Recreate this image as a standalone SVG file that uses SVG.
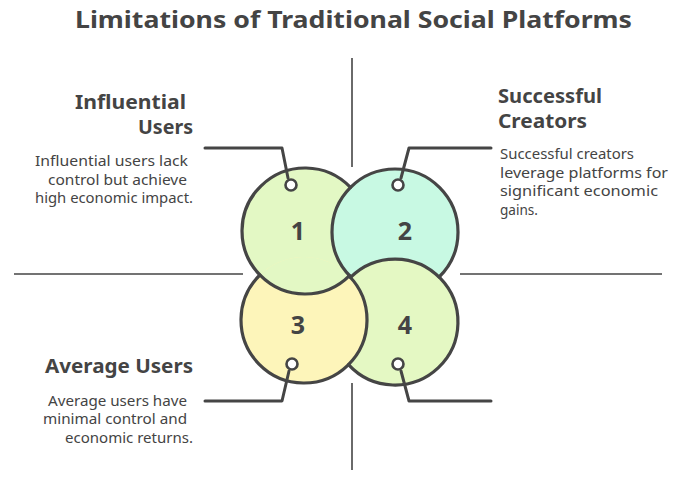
<svg xmlns="http://www.w3.org/2000/svg" width="675" height="489" viewBox="0 0 675 489">
<style>
.ln{fill:none;stroke:#454545;stroke-width:3;stroke-linecap:round;stroke-linejoin:round}
.ax{fill:none;stroke:#454545;stroke-width:1.6}
.ring{fill:none;stroke:#454545;stroke-width:3.2;stroke-linecap:round}
.dot{fill:#fff;stroke:#454545;stroke-width:2.6}
.ttl{font-family:"Noto Sans","Liberation Sans",sans-serif;font-weight:bold;fill:#444}
.hd{font-family:"Noto Sans","Liberation Sans",sans-serif;font-weight:bold;font-size:19px;fill:#444}
.bd{font-family:"Noto Sans","Liberation Sans",sans-serif;font-size:14px;fill:#444}
.num{font-family:"Noto Sans","Liberation Sans",sans-serif;font-weight:bold;font-size:25px;fill:#444;text-anchor:middle}
.f1{fill:#e3f8c4}.f2{fill:#c8f9e3}.f3{fill:#fdf5ba}.f4{fill:#e4f8c3}
</style>
<rect width="675" height="489" fill="#fff"/>
<text class="ttl" x="75" y="28" font-size="23" textLength="557" lengthAdjust="spacingAndGlyphs">Limitations of Traditional Social Platforms</text>
<g id="axes">
<line class="ax" x1="352" y1="58" x2="352" y2="167"/>
<line class="ax" x1="352" y1="383" x2="352" y2="470"/>
<line class="ax" x1="14" y1="274" x2="243" y2="274"/>
<line class="ax" x1="460" y1="274" x2="662" y2="274"/>
</g>
<g id="fills">
<circle class="f1" cx="305" cy="231" r="63"/>
<circle class="f2" cx="395" cy="232" r="63"/>
<circle class="f4" cx="395" cy="322" r="63"/>
<circle class="f3" cx="304" cy="320" r="63"/>
<path class="f1" d="M259.9 275 A63 63 0 0 1 349.1 276 A63 63 0 0 1 259.9 275 Z"/>
</g>
<g id="node1">
<path class="ring" d="M349.5 275.6 A63 63 0 1 1 350.5 187.4"/>
<text class="num" x="298" y="240">1</text>
</g>
<g id="node2">
<path class="ring" d="M439.1 277 A63 63 0 1 0 350.9 277"/>
<text class="num" x="405" y="240">2</text>
</g>
<g id="node3">
<path class="ring" d="M349.1 276 A63 63 0 1 1 259.9 275"/>
<text class="num" x="298" y="334">3</text>
</g>
<g id="node4">
<path class="ring" d="M350.5 277.4 A63 63 0 1 1 348.5 364.6"/>
<text class="num" x="405" y="334">4</text>
</g>
<g id="connectors">
<path class="ln" d="M205 148 L282 148 L288 178"/>
<path class="ln" d="M491 148 L409 148 L401 178"/>
<path class="ln" d="M205 401 L282 401 L289 371"/>
<path class="ln" d="M491 401 L409 401 L401 371"/>
<circle class="dot" cx="291" cy="185" r="5.5"/>
<circle class="dot" cx="398" cy="185" r="5.5"/>
<circle class="dot" cx="292" cy="364" r="5.5"/>
<circle class="dot" cx="398" cy="364" r="5.5"/>
</g>
<g id="label1">
<text class="hd" x="75" y="109" textLength="111" lengthAdjust="spacingAndGlyphs">Influential</text>
<text class="hd" x="138" y="134" textLength="55" lengthAdjust="spacingAndGlyphs">Users</text>
<text class="bd" x="35" y="166" textLength="153" lengthAdjust="spacingAndGlyphs">Influential users lack</text>
<text class="bd" x="48" y="185" textLength="139" lengthAdjust="spacingAndGlyphs">control but achieve</text>
<text class="bd" x="35" y="203" textLength="158" lengthAdjust="spacingAndGlyphs">high economic impact.</text>
</g>
<g id="label2">
<text class="hd" x="498" y="103" textLength="104" lengthAdjust="spacingAndGlyphs">Successful</text>
<text class="hd" x="498" y="128" textLength="89" lengthAdjust="spacingAndGlyphs">Creators</text>
<text class="bd" x="500" y="159" textLength="134" lengthAdjust="spacingAndGlyphs">Successful creators</text>
<text class="bd" x="500" y="178" textLength="168" lengthAdjust="spacingAndGlyphs">leverage platforms for</text>
<text class="bd" x="500" y="196" textLength="158" lengthAdjust="spacingAndGlyphs">significant economic</text>
<text class="bd" x="500" y="215" textLength="38" lengthAdjust="spacingAndGlyphs">gains.</text>
</g>
<g id="label3">
<text class="hd" x="45" y="373" textLength="148" lengthAdjust="spacingAndGlyphs">Average Users</text>
<text class="bd" x="48" y="406" textLength="139" lengthAdjust="spacingAndGlyphs">Average users have</text>
<text class="bd" x="43" y="424" textLength="144" lengthAdjust="spacingAndGlyphs">minimal control and</text>
<text class="bd" x="65" y="443" textLength="128" lengthAdjust="spacingAndGlyphs">economic returns.</text>
</g>
</svg>
